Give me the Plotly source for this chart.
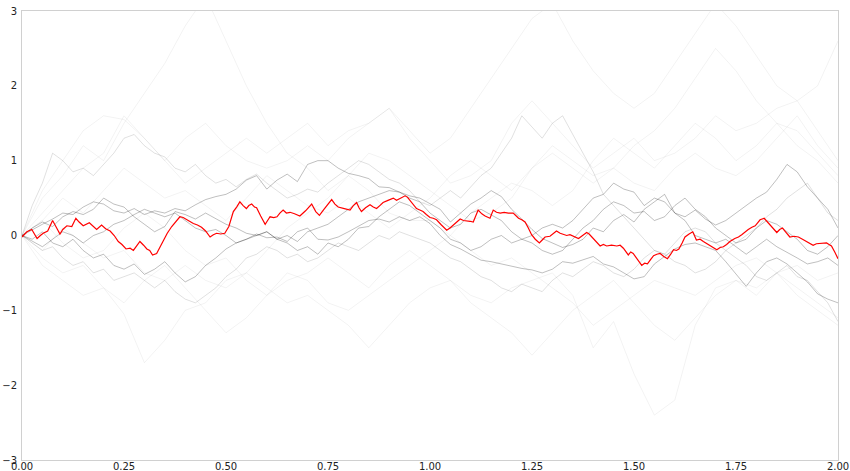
import plotly.graph_objects as go

# ---- data ----
RED_T = [0,0.012,0.024,0.037,0.045,0.052,0.063,0.075,0.083,0.093,0.1,0.11,0.122,0.132,0.14,0.15,0.165,0.175,0.183,0.195,0.205,0.216,0.226,0.236,0.245,0.255,0.265,0.273,0.28,0.289,0.298,0.306,0.313,0.32,0.33,0.338,0.346,0.356,0.367,0.377,0.387,0.395,0.404,0.412,0.42,0.43,0.44,0.45,0.461,0.469,0.477,0.487,0.497,0.507,0.518,0.526,0.534,0.542,0.55,0.556,0.563,0.57,0.575,0.585,0.596,0.602,0.608,0.617,0.625,0.632,0.64,0.648,0.657,0.668,0.681,0.695,0.71,0.72,0.729,0.74,0.75,0.759,0.767,0.775,0.79,0.804,0.812,0.82,0.826,0.832,0.842,0.853,0.861,0.869,0.877,0.885,0.897,0.91,0.918,0.926,0.933,0.939,0.945,0.951,0.959,0.967,0.975,0.983,0.991,1.0,1.008,1.016,1.028,1.041,1.049,1.057,1.066,1.074,1.082,1.09,1.098,1.106,1.112,1.118,1.127,1.135,1.147,1.155,1.163,1.172,1.182,1.192,1.204,1.21,1.217,1.225,1.233,1.241,1.249,1.258,1.268,1.275,1.282,1.294,1.302,1.31,1.319,1.327,1.335,1.343,1.354,1.364,1.374,1.384,1.39,1.397,1.407,1.417,1.425,1.433,1.445,1.458,1.466,1.474,1.486,1.492,1.498,1.508,1.519,1.526,1.533,1.541,1.548,1.556,1.564,1.573,1.582,1.59,1.597,1.604,1.61,1.618,1.625,1.635,1.644,1.653,1.662,1.67,1.681,1.692,1.703,1.711,1.719,1.727,1.735,1.747,1.756,1.764,1.772,1.78,1.789,1.797,1.803,1.809,1.819,1.826,1.833,1.842,1.85,1.857,1.864,1.873,1.882,1.892,1.903,1.913,1.923,1.931,1.939,1.947,1.955,1.963,1.972,1.978,1.984,1.992,2.0]
RED_V = [-0.02,0.05,0.08,-0.04,0.0,0.03,0.06,0.20,0.12,0.02,0.08,0.13,0.12,0.23,0.18,0.13,0.17,0.12,0.08,0.14,0.09,0.06,0.0,-0.08,-0.12,-0.18,-0.17,-0.20,-0.15,-0.08,-0.13,-0.18,-0.2,-0.26,-0.24,-0.16,-0.06,0.03,0.12,0.18,0.25,0.24,0.21,0.19,0.16,0.14,0.11,0.06,-0.02,0.01,0.03,0.02,0.03,0.12,0.32,0.38,0.45,0.40,0.36,0.40,0.42,0.38,0.37,0.26,0.15,0.2,0.25,0.24,0.25,0.3,0.34,0.3,0.31,0.29,0.26,0.33,0.42,0.32,0.27,0.35,0.42,0.48,0.42,0.38,0.36,0.34,0.40,0.44,0.37,0.32,0.37,0.41,0.38,0.36,0.40,0.44,0.47,0.50,0.47,0.49,0.51,0.53,0.51,0.47,0.41,0.36,0.34,0.32,0.28,0.24,0.23,0.21,0.14,0.07,0.1,0.14,0.19,0.22,0.20,0.20,0.19,0.18,0.26,0.34,0.29,0.26,0.23,0.34,0.31,0.30,0.31,0.30,0.30,0.27,0.23,0.21,0.18,0.10,0.01,-0.05,-0.10,-0.06,-0.02,-0.01,0.03,0.06,0.03,0.01,0.0,0.01,-0.02,-0.04,0.0,0.04,0.02,-0.02,-0.08,-0.14,-0.12,-0.14,-0.13,-0.14,-0.13,-0.17,-0.26,-0.22,-0.24,-0.32,-0.40,-0.37,-0.38,-0.32,-0.27,-0.25,-0.24,-0.28,-0.31,-0.25,-0.19,-0.20,-0.18,-0.10,-0.02,0.02,0.05,-0.06,-0.05,-0.08,-0.12,-0.16,-0.19,-0.16,-0.15,-0.12,-0.08,-0.04,-0.02,0.01,0.05,0.08,0.11,0.13,0.17,0.21,0.23,0.19,0.14,0.09,0.04,0.08,0.10,0.04,-0.02,-0.01,-0.02,-0.05,-0.08,-0.11,-0.13,-0.11,-0.11,-0.1,-0.10,-0.12,-0.14,-0.22,-0.31]

T_FINE = [round(i * 0.025, 3) for i in range(81)]
D1 = [0,0.08,0.15,0.22,0.3,0.28,0.38,0.45,0.42,0.33,0.3,0.36,0.28,0.33,0.3,0.36,0.33,0.41,0.48,0.52,0.55,0.62,0.74,0.8,0.62,0.74,0.82,0.72,0.95,1.0,1.0,0.9,0.83,0.8,0.76,0.65,0.64,0.58,0.53,0.5,0.42,0.35,0.18,0.3,0.42,0.5,0.6,0.52,0.35,0.22,0.08,-0.04,-0.1,-0.16,-0.12,-0.05,0.1,0.05,0.2,0.28,0.18,0.35,0.45,0.55,0.3,0.25,0.34,0.22,0.14,0.2,0.3,0.4,0.5,0.58,0.75,0.95,0.85,0.65,0.5,0.35,0.1]
D2 = [0,-0.05,0.05,-0.1,-0.15,-0.05,-0.2,-0.3,-0.25,-0.4,-0.45,-0.38,-0.52,-0.45,-0.35,-0.5,-0.62,-0.55,-0.4,-0.3,-0.18,-0.1,-0.05,0.02,-0.03,-0.02,-0.08,0.05,0.1,-0.05,-0.06,-0.02,0.05,0.12,0.2,0.22,0.18,0.25,0.2,0.25,0.16,0.0,-0.12,-0.18,-0.25,-0.33,-0.35,-0.38,-0.42,-0.44,-0.46,-0.5,-0.45,-0.35,-0.37,-0.32,-0.28,-0.38,-0.42,-0.5,-0.58,-0.55,-0.38,-0.28,-0.18,-0.12,-0.1,-0.15,-0.2,-0.35,-0.52,-0.68,-0.5,-0.35,-0.3,-0.38,-0.5,-0.62,-0.78,-0.85,-0.9]
D3 = [0,0.1,0.18,0.12,0.25,0.32,0.28,0.35,0.5,0.42,0.38,0.25,0.15,0.05,0.12,0.32,0.28,0.22,0.3,0.22,0.15,0.1,0.03,0.0,0.05,-0.05,0.0,-0.08,0.05,0.1,0.15,0.25,0.35,0.45,0.5,0.55,0.6,0.58,0.5,0.45,0.3,0.2,0.1,0.15,0.3,0.35,0.28,0.2,0.05,-0.05,-0.1,-0.2,-0.25,-0.2,-0.05,0.1,0.2,0.35,0.45,0.4,0.3,0.32,0.2,0.25,0.4,0.5,0.35,0.25,0.1,0.0,-0.1,-0.05,0.1,0.2,0.15,0.05,-0.05,-0.2,-0.25,-0.15,0.0]
D4 = [0,-0.08,-0.15,-0.05,0.05,0.0,-0.1,0.0,0.05,0.15,0.2,0.28,0.35,0.3,0.25,0.3,0.2,0.1,0.05,0.08,0.0,-0.1,-0.05,0.0,0.05,-0.05,-0.1,-0.2,-0.15,-0.25,-0.1,-0.15,-0.05,0.1,0.12,0.25,0.35,0.45,0.4,0.3,0.2,0.1,-0.05,-0.1,-0.2,-0.15,-0.05,0.0,-0.1,-0.05,0.0,0.1,0.15,0.1,0.2,0.35,0.5,0.55,0.7,0.62,0.58,0.4,0.5,0.45,0.3,0.2,0.0,-0.05,-0.1,-0.05,-0.15,-0.25,-0.15,-0.05,-0.15,-0.22,-0.3,-0.38,-0.35,-0.3,-0.4]
D5 = [0,0.4,0.7,1.1,1.0,0.85,0.9,0.8,0.95,1.1,1.3,1.35,1.2,1.1,1.05,0.9,0.85,0.95,0.8,0.7,0.75,0.65,0.75,0.82,0.7,0.6,0.5,0.55,0.62,0.58,0.7,0.8,0.9,1.0,0.95,0.85,0.75,0.7,0.6,0.45,0.4,0.5,0.6,0.5,0.65,0.8,0.9,1.1,1.3,1.6,1.45,1.3,1.5,1.6,1.35,1.1,0.85,0.55,0.4,0.25,0.1,-0.05,-0.2,-0.25,-0.1,0.05,0.1,0.05,-0.1,-0.2,-0.3,-0.4,-0.55,-0.6,-0.5,-0.4,-0.55,-0.6,-0.75,-0.9,-1.15]
D6 = [0,-0.1,-0.2,-0.15,-0.3,-0.4,-0.35,-0.5,-0.45,-0.6,-0.55,-0.5,-0.6,-0.7,-0.6,-0.75,-0.85,-0.9,-0.8,-0.7,-0.55,-0.45,-0.3,-0.25,-0.15,-0.2,-0.3,-0.25,-0.35,-0.3,-0.2,-0.1,-0.15,-0.2,-0.1,0.0,-0.05,0.05,0.0,-0.05,-0.1,-0.2,-0.3,-0.35,-0.45,-0.55,-0.6,-0.7,-0.75,-0.65,-0.7,-0.75,-0.6,-0.5,-0.55,-0.45,-0.35,-0.4,-0.5,-0.55,-0.45,-0.3,-0.2,-0.25,-0.35,-0.4,-0.5,-0.45,-0.35,-0.2,-0.1,0.0,0.1,0.25,0.35,0.5,0.6,0.7,0.5,0.3,0.2]

T_COARSE = [round(i * 0.05, 2) for i in range(41)]
F1 = [0,-0.3,-0.5,-0.4,-0.7,-1.05,-1.7,-1.4,-1.0,-0.9,-0.6,-0.5,-0.2,0.1,0.3,0.5,0.8,1.1,1.0,0.8,0.6,0.4,0.2,0.3,0.5,0.9,1.2,1.0,0.8,0.9,0.7,0.6,0.9,1.1,0.9,0.8,1.0,1.3,1.6,1.2,0.9]
F2 = [0,-0.2,0.1,-0.1,-0.3,-0.2,-0.5,-0.6,-0.4,-0.6,-0.7,-0.5,-0.7,-0.9,-0.8,-1.0,-1.2,-1.5,-1.2,-0.9,-0.7,-0.6,-0.8,-0.9,-0.7,-0.6,-0.5,-0.8,-1.5,-1.15,-1.85,-2.4,-2.2,-1.2,-0.7,-0.6,-0.8,-0.5,-0.4,-0.6,-0.5]
F3 = [0,0.5,0.8,1.2,1.0,1.5,1.9,2.3,2.8,3.2,2.6,2.0,1.5,1.1,0.9,0.6,0.8,0.6,0.3,0.2,0.2,0.0,0.3,0.5,0.7,0.6,0.4,0.6,1.0,1.3,1.1,0.9,1.2,1.5,1.3,1.0,1.2,1.5,1.4,1.1,0.8]
F4 = [0,0.3,0.6,0.9,1.1,1.6,1.3,1.0,1.3,1.5,1.2,1.0,0.9,1.0,1.2,1.0,1.3,1.5,1.7,1.4,1.1,1.3,1.7,2.1,2.5,2.9,3.1,2.6,2.2,1.9,1.7,1.9,2.3,2.7,3.1,2.8,2.4,2.0,1.8,2.0,2.6]
F5 = [0,0.2,-0.1,-0.3,-0.2,0.1,0.3,0.1,-0.2,-0.4,-0.3,-0.6,-0.8,-0.6,-0.5,-0.3,-0.5,-0.7,-0.4,-0.2,-0.4,-0.6,-0.9,-1.1,-1.3,-1.6,-1.3,-1.0,-0.8,-0.6,-0.9,-1.2,-1.4,-1.1,-0.8,-0.6,-0.7,-0.5,-0.8,-1.0,-1.2]
F6 = [0,0.6,1.0,1.4,1.6,1.55,1.3,1.0,0.7,0.9,1.1,1.3,1.1,1.3,1.5,1.2,1.4,1.5,1.7,1.3,1.0,0.7,0.8,1.0,1.5,1.8,1.5,1.2,0.9,1.1,1.3,1.0,1.1,1.3,1.6,1.4,1.5,1.7,1.8,1.4,1.0]
F7 = [0,-0.4,-0.6,-0.8,-0.7,-0.9,-0.6,-0.4,-0.7,-1.0,-1.3,-1.1,-0.8,-0.5,-0.6,-0.9,-1.0,-0.8,-0.6,-0.4,-0.2,0.0,-0.2,-0.4,-0.3,-0.5,-0.7,-0.9,-1.2,-1.0,-0.8,-0.6,-0.7,-0.8,-0.6,-0.4,-0.3,-0.5,-0.7,-0.9,-1.1]
F8 = [0,0.2,0.5,0.3,0.6,0.9,0.7,0.5,0.6,0.4,0.2,0.5,0.8,0.6,0.4,0.3,0.5,0.3,0.1,0.3,0.5,0.8,1.0,0.8,0.6,0.9,1.1,0.9,0.7,0.9,1.2,1.4,1.7,2.1,2.5,2.2,1.8,1.5,1.2,1.0,0.7]

X_TICKS = [0, 0.25, 0.5, 0.75, 1.0, 1.25, 1.5, 1.75, 2.0]
Y_TICKS = [-3, -2, -1, 0, 1, 2, 3]

fig = go.Figure()
for ys in [F1, F2, F3, F4, F5, F6, F7, F8]:
    fig.add_trace(go.Scatter(x=T_COARSE, y=ys, mode="lines",
                             line=dict(color="rgba(0,0,0,0.05)", width=1),
                             hoverinfo="skip", showlegend=False))
for ys in [D5, D6]:
    fig.add_trace(go.Scatter(x=T_FINE, y=ys, mode="lines",
                             line=dict(color="rgba(0,0,0,0.12)", width=1),
                             hoverinfo="skip", showlegend=False))
for ys in [D1, D2, D3, D4]:
    fig.add_trace(go.Scatter(x=T_FINE, y=ys, mode="lines",
                             line=dict(color="rgba(0,0,0,0.25)", width=1),
                             hoverinfo="skip", showlegend=False))
fig.add_trace(go.Scatter(x=RED_T, y=RED_V, mode="lines",
                         line=dict(color="red", width=1.2), showlegend=False))

axis_common = dict(showgrid=False, zeroline=False, showline=True, mirror=True,
                   linecolor="#d0d0d0", linewidth=1, ticks="",
                   tickfont=dict(family="DejaVu Sans", size=10, color="#222"),
                   automargin=False)
fig.update_layout(
    width=850, height=471,
    margin=dict(l=22, r=12, t=11, b=11),
    paper_bgcolor="white", plot_bgcolor="white",
    xaxis=dict(range=[0, 2], tickvals=X_TICKS, tickformat=".2f", ticklabelstandoff=-3, **axis_common),
    yaxis=dict(range=[-3, 3], tickvals=Y_TICKS, ticklabelstandoff=2, **axis_common),
)
fig.write_html("out.html", config={"displayModeBar": False},
               post_script="document.body.style.margin='0';document.body.style.overflow='hidden';")
